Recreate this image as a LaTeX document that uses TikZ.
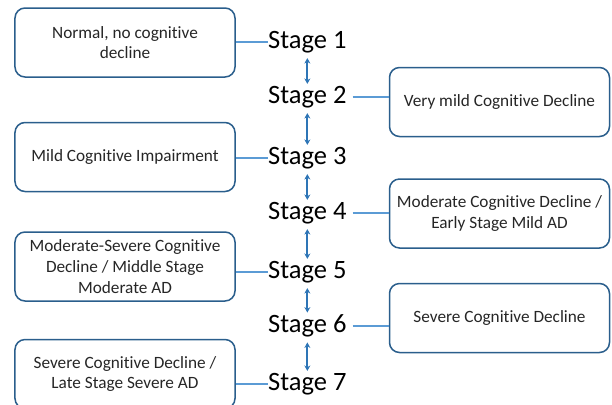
\documentclass[tikz,border=0pt]{standalone}
\usepackage{fontspec}
\setmainfont{Carlito}[Ligatures=CommonOff]
\usetikzlibrary{arrows.meta}
\definecolor{boxblue}{HTML}{2A5E8C}
\definecolor{lineblue}{HTML}{5B9BD5}
\definecolor{arrblue}{HTML}{2E75B6}
\definecolor{txtgray}{HTML}{262626}
\begin{document}
\begin{tikzpicture}[x=1bp,y=-1bp,
  infobox/.style={draw=boxblue, line width=1.5bp, rounded corners=10bp, fill=white,
    minimum width=220bp, minimum height=69bp, align=center, text=txtgray,
    font=\fontsize{17.3}{20.8}\selectfont, inner sep=2bp},
  stagetext/.style={inner sep=0pt, anchor=west, text=black,
    font=\fontsize{26.6}{30}\selectfont},
  conn/.style={draw=lineblue, line width=1.4bp},
  dbl/.style={draw=arrblue, line width=2bp, {Stealth[length=5.5bp,width=6bp]}-{Stealth[length=5.5bp,width=6bp]},
    shorten <=5bp, shorten >=2bp}]
\useasboundingbox (0,0) rectangle (612,404);
% stages
\node[stagetext] (s1) at (268,42) {Stage 1};
\node[stagetext] (s2) at (268,97) {Stage 2};
\node[stagetext] (s3) at (268,158) {Stage 3};
\node[stagetext] (s4) at (268,213) {Stage 4};
\node[stagetext] (s5) at (268,272) {Stage 5};
\node[stagetext] (s6) at (268,326) {Stage 6};
\node[stagetext] (s7) at (268,384) {Stage 7};
% boxes
\node[infobox] (b1) at (125,42.5) {Normal, no cognitive\\decline};
\node[infobox] (b2) at (499.5,102) {Very mild Cognitive Decline};
\node[infobox] (b3) at (125,157) {Mild Cognitive Impairment};
\node[infobox] (b4) at (499.5,213.5) {Moderate Cognitive Decline /\\Early Stage Mild AD};
\node[infobox] (b5) at (125,266.5) {Moderate-Severe Cognitive\\Decline / Middle Stage\\Moderate AD};
\node[infobox] (b6) at (499.5,318) {Severe Cognitive Decline};
\node[infobox] (b7) at (125,374) {Severe Cognitive Decline /\\Late Stage Severe AD};
% connectors
\draw[conn] (b1.east |- s1.west) -- (s1.west);
\draw[conn] (s2.east) ++(6bp,0) -- (b2.west |- s2.east);
\draw[conn] (b3.east |- s3.west) -- (s3.west);
\draw[conn] (s4.east) ++(6bp,0) -- (b4.west |- s4.east);
\draw[conn] (b5.east |- s5.west) -- (s5.west);
\draw[conn] (s6.east) ++(6bp,0) -- (b6.west |- s6.east);
\draw[conn] (b7.east |- s7.west) -- (s7.west);
% arrows
\draw[dbl] (s1.south) -- (s2.north);
\draw[dbl] (s2.south) -- (s3.north);
\draw[dbl] (s3.south) -- (s4.north);
\draw[dbl] (s4.south) -- (s5.north);
\draw[dbl] (s5.south) -- (s6.north);
\draw[dbl] (s6.south) -- (s7.north);
\end{tikzpicture}
\end{document}
